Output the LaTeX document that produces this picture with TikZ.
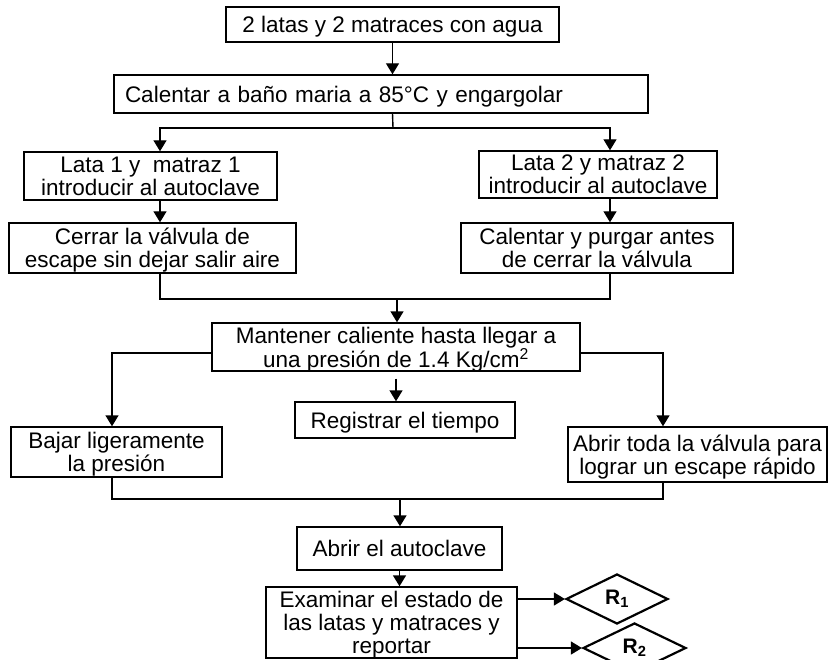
\documentclass[tikz,border=0pt]{standalone}
\usepackage{fontspec}
\setmainfont{Liberation Sans}
\usetikzlibrary{shapes.geometric,arrows.meta}

\begin{document}
\begin{tikzpicture}[x=1pt,y=-1pt,line width=1.4pt,>={Triangle[length=11pt,width=13pt]},
caja/.style={draw,align=center,inner sep=1pt,text depth=-3pt,font=\fontsize{22.5}{23}\selectfont},
rombo/.style={draw,diamond,line width=2.2pt,inner sep=0pt,font=\fontsize{21}{21}\selectfont\bfseries}]
\useasboundingbox (0,0) rectangle (829,660);
\clip (0,0) rectangle (829,660);
% pasos del proceso
\node[caja,minimum width=333pt,minimum height=35pt] (1)at(392.5,24.5){2 latas y 2 matraces con agua};
\node[caja,minimum width=534pt,minimum height=38pt,text width=512pt,align=left,inner xsep=11pt] (2)at(381,94){Calentar a baño maria a 85°C y engargolar};
\node[caja,minimum width=253pt,minimum height=48pt] (3)at(150.5,176){Lata 1 y~~matraz 1\\introducir al autoclave};
\node[caja,minimum width=287pt,minimum height=50pt] (4)at(152.5,248){Cerrar la válvula de\\escape sin dejar salir aire};
\node[caja,minimum width=238pt,minimum height=47pt] (5)at(598,174.5){Lata 2 y matraz 2\\introducir al autoclave};
\node[caja,minimum width=272pt,minimum height=50pt] (6)at(597,248){Calentar y purgar antes\\de cerrar la válvula};
\node[caja,minimum width=368pt,minimum height=48pt] (7)at(396,347){Mantener caliente hasta llegar a\\una presión de 1.4 Kg/cm\textsuperscript{2}};
\node[caja,minimum width=211pt,minimum height=50pt] (8)at(116.5,452){Bajar ligeramente\\la presión};
\node[caja,minimum width=220pt,minimum height=36pt] (9)at(405,420){Registrar el tiempo};
\node[caja,minimum width=259pt,minimum height=55pt] (10)at(697.5,454.5){Abrir toda la válvula para\\lograr un escape rápido};
\node[caja,minimum width=205pt,minimum height=43pt] (11)at(399.5,548.5){Abrir el autoclave};
\node[caja,minimum width=251pt,minimum height=71pt] (12)at(391.5,622.5){Examinar el estado de\\las latas y matraces y\\reportar};
% resultados
\node[rombo,minimum width=102pt,minimum height=50pt] (13)at(617,599){R\textsubscript{1}};
\node[rombo,minimum width=103pt,minimum height=50pt] (14)at(634.5,648){R\textsubscript{2}};
% flechas
\coordinate (a)at(393,128);
\coordinate (b)at(397,299);
\coordinate (c)at(400,499);
\draw[->] (1) -- (1 |- 2.north);
\draw (1 |- 2.south) -- (a);
\draw[->] (a) -| ([xshift=9.5pt]3.north);
\draw[->] (a) -| ([xshift=12pt]5.north);
\draw[->] ([xshift=9.5pt]3.south) -- ([xshift=9.5pt]3.south |- 4.north);
\draw[->] ([xshift=12pt]5.south) -- ([xshift=12pt]5.south |- 6.north);
\draw ([xshift=7.5pt]4.south) |- (b) -| ([xshift=13pt]6.south);
\draw[->] (b) -- (b |- 7.north);
\draw[->] ([yshift=-6pt]7.west) -| ([xshift=-4.5pt]8.north);
\draw[->] ([yshift=-6pt]7.east) -| ([xshift=-34.5pt]10.north);
\draw[->] ([yshift=-7pt]7.south) -- (7.south |- 9.north);
\draw ([xshift=-4.5pt]8.south) |- (c) -| ([xshift=-34.5pt]10.south);
\draw[->] (c) -- (c |- 11.north);
\draw[->] (11) -- (11 |- 12.north);
\draw[->] (12.east |- 13) -- (13.west);
\draw[->] (12.east |- 14) -- (14.west);
\end{tikzpicture}
\end{document}
